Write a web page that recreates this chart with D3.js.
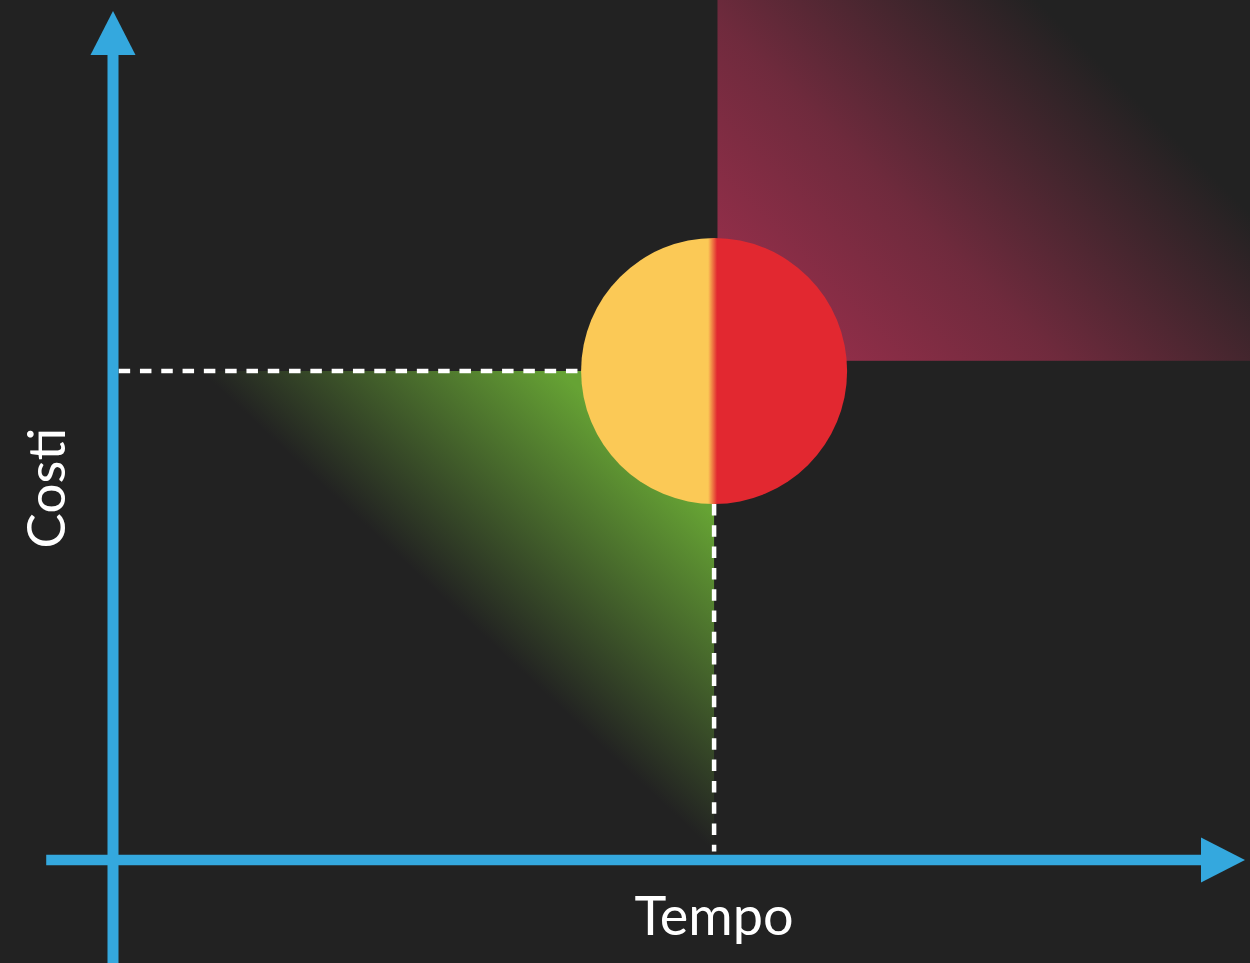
<!DOCTYPE html>
<html>
<head>
<meta charset="utf-8">
<script src="https://cdn.jsdelivr.net/npm/d3@7"></script>
<style>
  html, body { margin: 0; padding: 0; background: #222222; }
  #chart { width: 1250px; height: 963px; }
</style>
</head>
<body>
<div id="chart"></div>
<script>
// Axis titles
const AXIS_LABELS = ['Tempo', 'Costi']
// Estimated point (tempo, costi) on a 0–100 scale
const TARGET = [53.1, 57.6]
// Saving area (green triangle) vertices
const SAVING_AREA = [[7.7, 57.6], [53.1, 57.6], [53.1, 1]]
// Overrun area (red rectangle): [x0, y0], [x1, y1]
const OVERRUN_AREA = [[53.4, 58.8], [100.5, 101.3]]
// Axis extents: start, end (arrow tip)
const X_AXIS_EXTENT = [-5.9, 100]
const Y_AXIS_EXTENT = [-12.2, 100]
// Dashed guides end at these values
const GUIDE_START_X = 0.5
const GUIDE_END_Y = 1

const W = 1250, H = 963
const AXIS_COLOR = '#34a8de'
const R = 133

const svg = d3.select('#chart').append('svg')
  .attr('width', W).attr('height', H)

svg.append('rect').attr('width', W).attr('height', H).attr('fill', '#222222')

const x = d3.scaleLinear().domain([0, 100]).range([113, 1245])
const y = d3.scaleLinear().domain([0, 100]).range([860, 11])

const defs = svg.append('defs')

// Overrun gradient — bottom-left strong, fades to top-right
const rx0 = x(OVERRUN_AREA[0][0]), ry0 = y(OVERRUN_AREA[0][1])
const redGrad = defs.append('linearGradient')
  .attr('id', 'grad-overrun')
  .attr('gradientUnits', 'userSpaceOnUse')
  .attr('x1', rx0).attr('y1', ry0)
  .attr('x2', rx0 + 340).attr('y2', ry0 - 340)
redGrad.append('stop').attr('offset', '0%').attr('stop-color', '#a3304f').attr('stop-opacity', 1)
redGrad.append('stop').attr('offset', '50%').attr('stop-color', '#a3304f').attr('stop-opacity', 0.6)
redGrad.append('stop').attr('offset', '100%').attr('stop-color', '#a3304f').attr('stop-opacity', 0)

// Saving gradient — perpendicular to the hypotenuse
const A = SAVING_AREA.map(d => [x(d[0]), y(d[1])])
const hx = A[2][0] - A[0][0], hy = A[2][1] - A[0][1]
const tProj = ((A[1][0] - A[0][0]) * hx + (A[1][1] - A[0][1]) * hy) / (hx * hx + hy * hy)
const foot = [A[0][0] + tProj * hx, A[0][1] + tProj * hy]
const greenGrad = defs.append('linearGradient')
  .attr('id', 'grad-saving')
  .attr('gradientUnits', 'userSpaceOnUse')
  .attr('x1', foot[0]).attr('y1', foot[1])
  .attr('x2', A[1][0]).attr('y2', A[1][1])
greenGrad.append('stop').attr('offset', '0%').attr('stop-color', '#66a334').attr('stop-opacity', 0)
greenGrad.append('stop').attr('offset', '70%').attr('stop-color', '#66a334').attr('stop-opacity', 1)
greenGrad.append('stop').attr('offset', '100%').attr('stop-color', '#66a334').attr('stop-opacity', 1)

// Circle — yellow/red halves with a soft seam
const cx = x(TARGET[0]), cy = y(TARGET[1])
const circGrad = defs.append('linearGradient')
  .attr('id', 'grad-circle')
  .attr('gradientUnits', 'userSpaceOnUse')
  .attr('x1', cx - R).attr('y1', 0).attr('x2', cx + R).attr('y2', 0)
circGrad.append('stop').attr('offset', (R - 6) / (2 * R)).attr('stop-color', '#fbc956')
circGrad.append('stop').attr('offset', (R + 3) / (2 * R)).attr('stop-color', '#e22830')

// Overrun rect
svg.append('rect')
  .attr('x', rx0).attr('y', y(OVERRUN_AREA[1][1]))
  .attr('width', x(OVERRUN_AREA[1][0]) - rx0)
  .attr('height', ry0 - y(OVERRUN_AREA[1][1]))
  .attr('fill', 'url(#grad-overrun)')

// Saving triangle
svg.append('path')
  .datum(SAVING_AREA)
  .attr('d', d3.line().x(d => x(d[0])).y(d => y(d[1])).curve(d3.curveLinearClosed))
  .attr('fill', 'url(#grad-saving)')

// Dashed guides
svg.append('line')
  .attr('x1', x(GUIDE_START_X)).attr('x2', cx - R)
  .attr('y1', cy).attr('y2', cy)
  .attr('stroke', '#ffffff').attr('stroke-width', 4.5)
  .attr('stroke-dasharray', '11.5,9.8')

svg.append('line')
  .attr('x1', cx).attr('x2', cx)
  .attr('y1', cy + R).attr('y2', y(GUIDE_END_Y))
  .attr('stroke', '#ffffff').attr('stroke-width', 4.5)
  .attr('stroke-dasharray', '11.5,9.8')

svg.append('circle')
  .attr('cx', cx).attr('cy', cy).attr('r', R)
  .attr('fill', 'url(#grad-circle)')

// Axes with arrowheads
const AH = 44, AW = 22.5
svg.append('line')
  .attr('x1', x(X_AXIS_EXTENT[0])).attr('x2', x(X_AXIS_EXTENT[1]) - AH + 1)
  .attr('y1', y(0)).attr('y2', y(0))
  .attr('stroke', AXIS_COLOR).attr('stroke-width', 10.5)
svg.append('path')
  .attr('d', `M${x(X_AXIS_EXTENT[1])},${y(0)} L${x(X_AXIS_EXTENT[1]) - AH},${y(0) - AW} L${x(X_AXIS_EXTENT[1]) - AH},${y(0) + AW} Z`)
  .attr('fill', AXIS_COLOR)

svg.append('line')
  .attr('x1', x(0)).attr('x2', x(0))
  .attr('y1', y(Y_AXIS_EXTENT[0])).attr('y2', y(Y_AXIS_EXTENT[1]) + AH - 1)
  .attr('stroke', AXIS_COLOR).attr('stroke-width', 11)
svg.append('path')
  .attr('d', `M${x(0)},${y(Y_AXIS_EXTENT[1])} L${x(0) - AW},${y(Y_AXIS_EXTENT[1]) + AH} L${x(0) + AW},${y(Y_AXIS_EXTENT[1]) + AH} Z`)
  .attr('fill', AXIS_COLOR)

// Axis labels
svg.append('text')
  .attr('x', cx).attr('y', 935)
  .attr('text-anchor', 'middle')
  .attr('fill', '#ffffff')
  .attr('font-family', 'Lato, sans-serif').attr('font-size', 54)
  .text(AXIS_LABELS[0])

svg.append('text')
  .attr('transform', `translate(65, ${y(43.8)}) rotate(-90)`)
  .attr('text-anchor', 'middle')
  .attr('fill', '#ffffff')
  .attr('font-family', 'Lato, sans-serif').attr('font-size', 53)
  .text(AXIS_LABELS[1])
</script>
</body>
</html>
